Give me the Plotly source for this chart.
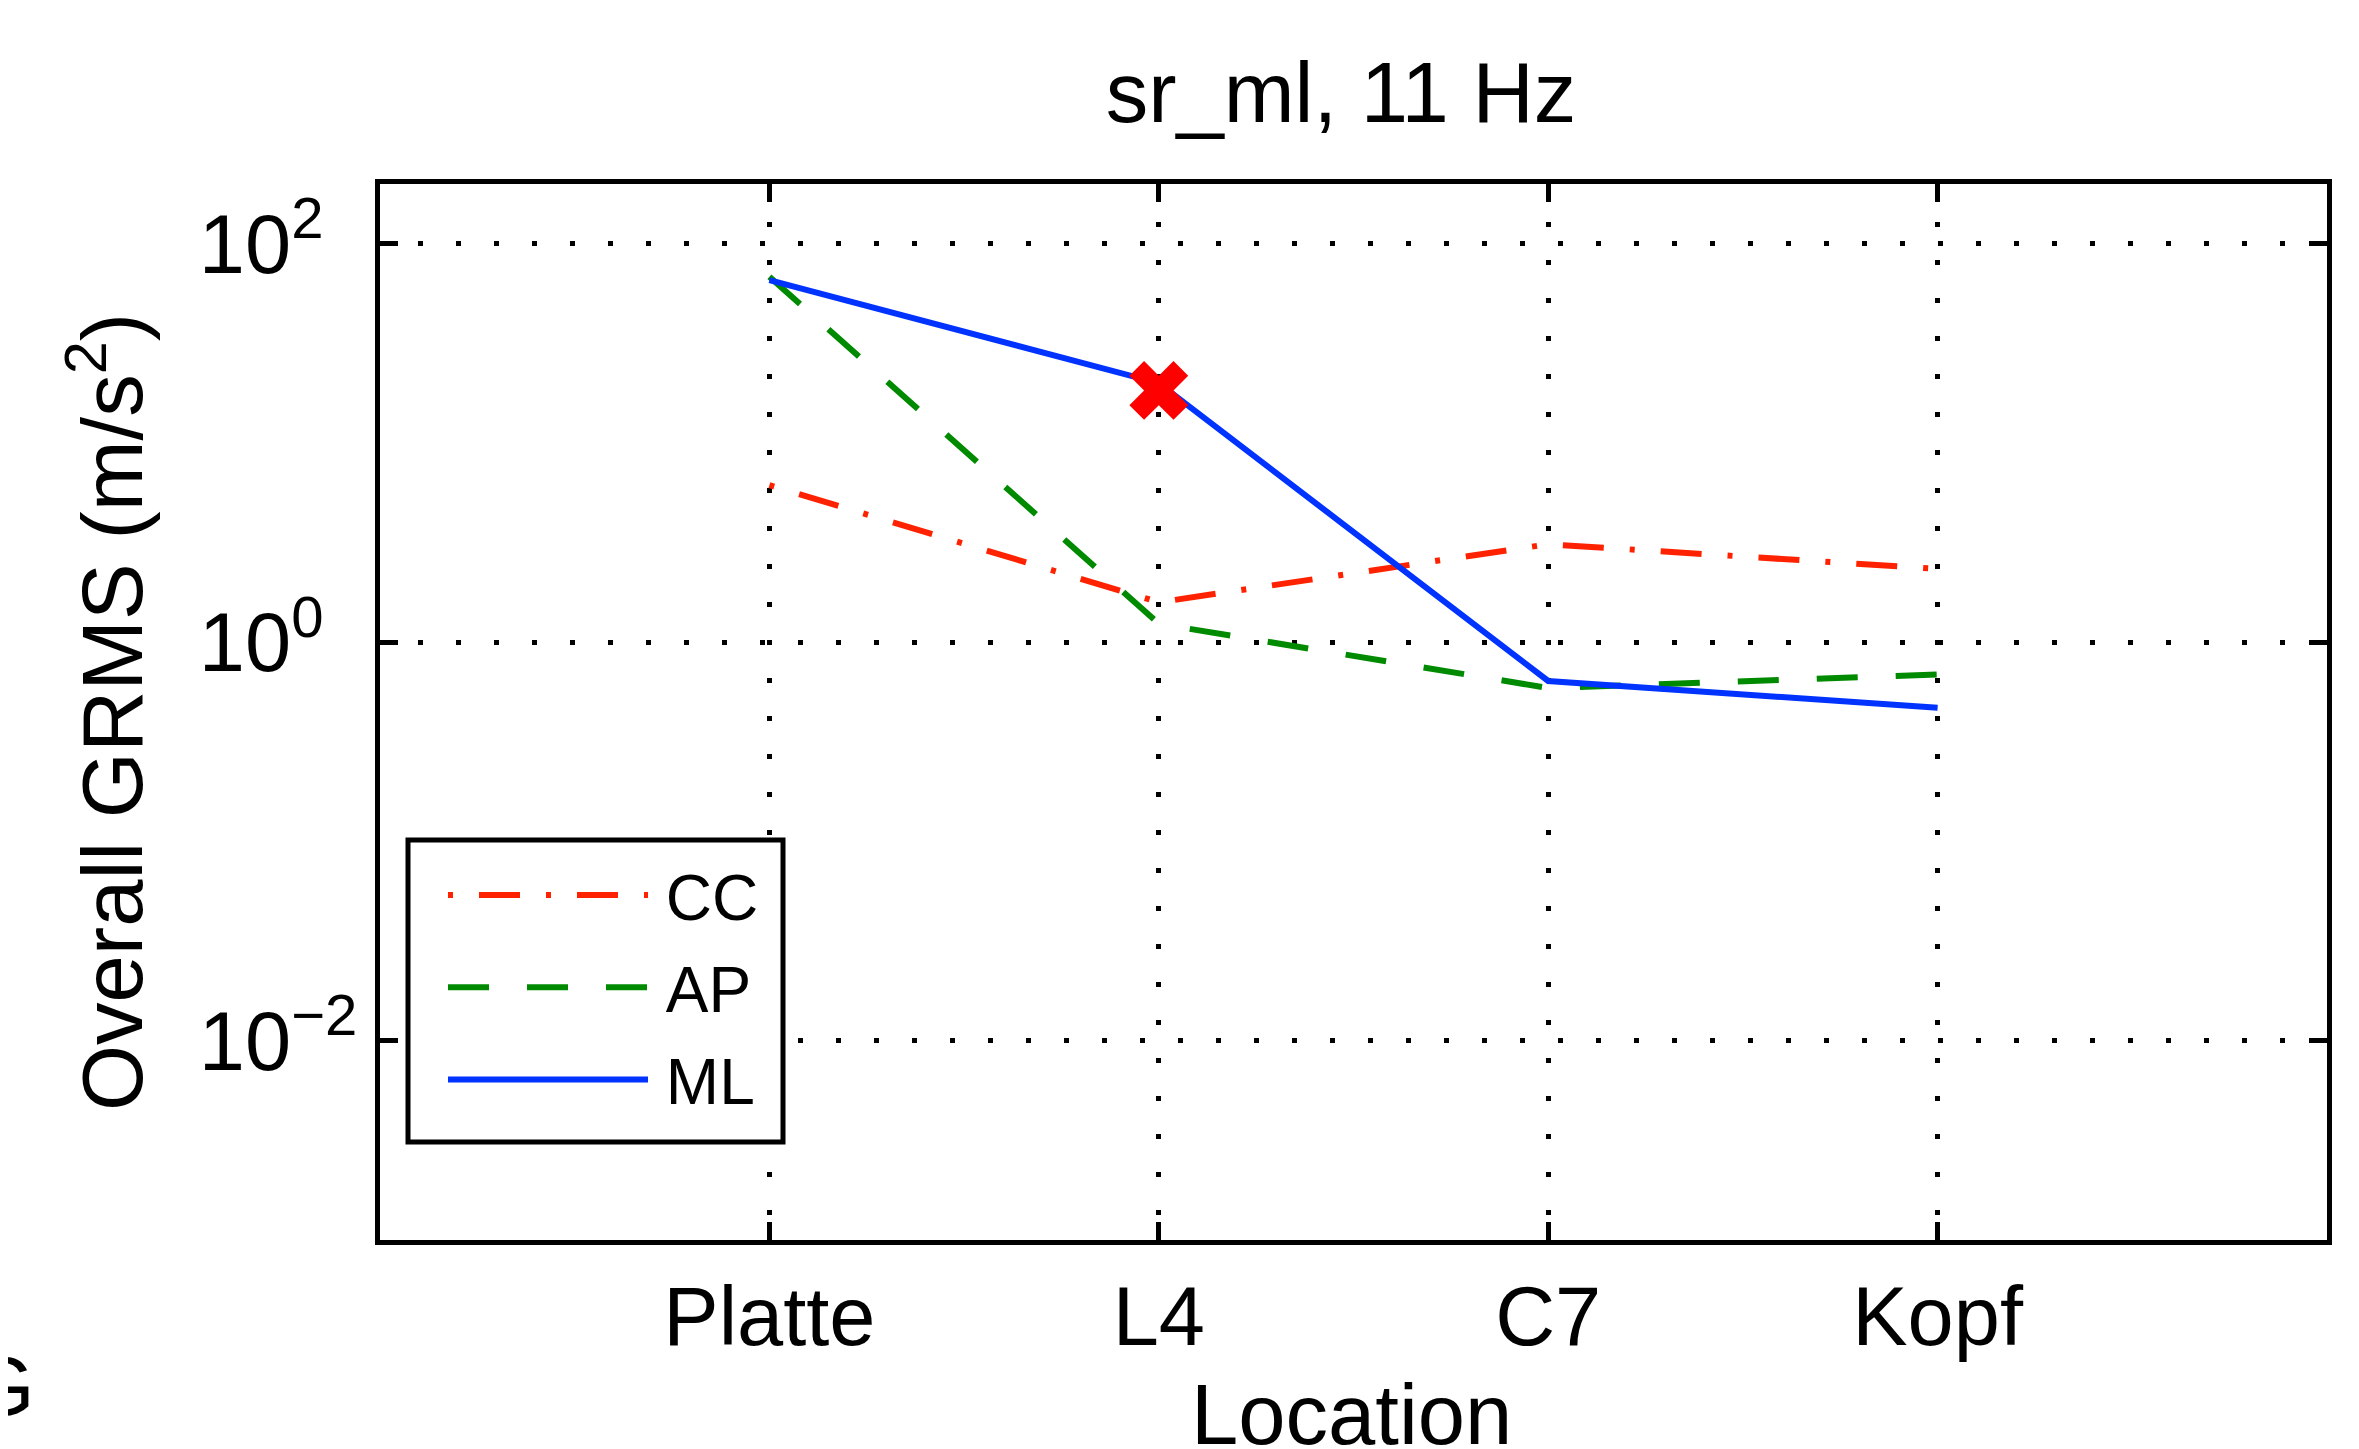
import plotly.graph_objects as go

locations = ["Platte", "L4", "C7", "Kopf"]
cc_vals = [6.15, 1.59, 3.11, 2.34]
ap_vals = [68.5, 1.24, 0.59, 0.69]
ml_vals = [65.9, 20.0, 0.64, 0.47]
marker_loc = ["L4"]
marker_val = [18.4]

ytick_vals = [0.01, 1, 100]
HID = "<span style='color:rgba(0,0,0,0)'>−</span>"
ytick_text = ["10<sup>−2</sup>", "10<sup>0" + HID + "</sup>", "10<sup>2" + HID + "</sup>"]

FONT = "Liberation Sans, Arial, Helvetica, sans-serif"
FS = 83
SP = "\u2009"
NB = "\u00a0"

# figure is rendered with an 8px page offset; layout below is in figure-local px
W, H = 2351, 1441
L, R, T, B = 372, 32, 176, 209
PW, PH = W - L - R, H - T - B

def px_x(v):
    return (v - L) / PW

def px_y(v):
    return (H - B - v) / PH

fig = go.Figure()
fig.add_trace(go.Scatter(x=locations, y=cc_vals, mode="lines", name=SP + "CC" + NB, legendgroup="cc",
                         line=dict(color="#ff2200", width=6, dash="5px,26px,41px,26px")))
fig.add_trace(go.Scatter(x=locations, y=ap_vals, mode="lines", name=SP + "AP" + NB, legendgroup="ap",
                         line=dict(color="#008a00", width=6, dash="41px,38px")))
fig.add_trace(go.Scatter(x=locations, y=ml_vals, mode="lines", name=SP + "ML" + NB, legendgroup="ml",
                         line=dict(color="#0033ff", width=6)))
fig.add_trace(go.Scatter(x=marker_loc, y=marker_val, mode="markers", showlegend=False,
                         marker=dict(symbol="x", size=52, color="#ff0000", line=dict(width=0))))

# legend frame
fig.add_shape(type="rect", xref="paper", yref="paper", layer="above",
              x0=px_x(400), x1=px_x(775), y0=px_y(1134), y1=px_y(832),
              fillcolor="white", line=dict(color="black", width=5))

fig.update_layout(
    width=W, height=H,
    margin=dict(l=L, r=R, t=T, b=B, autoexpand=False),
    paper_bgcolor="white", plot_bgcolor="white",
    font=dict(family=FONT, size=FS, color="black"),
    title=dict(text="sr_ml, 11 Hz", x=1333 / W, xref="container", y=1 - 84 / H, yref="container",
               xanchor="center", yanchor="middle", font=dict(size=85)),
    legend=dict(x=px_x(400), y=px_y(834), xanchor="left", yanchor="top",
                bgcolor="rgba(0,0,0,0)", bordercolor="rgba(0,0,0,0)", borderwidth=5,
                font=dict(size=64), itemwidth=200, traceorder="grouped", tracegroupgap=6,
                indentation=30),
    showlegend=True,
)
fig.update_xaxes(
    type="category", range=[-1, 4], automargin=True,
    showline=True, linecolor="black", linewidth=5, mirror="ticks",
    ticks="inside", ticklen=18, tickwidth=5, tickcolor="black",
    showgrid=True, gridcolor="black", gridwidth=5, griddash="5px,33px",
    zeroline=False, ticklabelstandoff=0, tickfont=dict(size=FS),
)
fig.update_yaxes(
    type="log", range=[-3, 2.30103], automargin=True,
    tickvals=ytick_vals, ticktext=ytick_text,
    showline=True, linecolor="black", linewidth=5, mirror="ticks",
    ticks="inside", ticklen=18, tickwidth=5, tickcolor="black",
    showgrid=True, gridcolor="black", gridwidth=5, griddash="5px,33px",
    zeroline=False, ticklabelstandoff=1, tickfont=dict(size=FS),
    title=dict(text="Overall GRMS (m/s<sup>2</sup>)", standoff=30, font=dict(size=85)),
)
# x-axis title (placed as an annotation so it can sit close to the bottom edge)
fig.add_annotation(text="Location", xref="paper", yref="paper", x=px_x(1343), y=px_y(1406),
                   xanchor="center", yanchor="middle", showarrow=False, font=dict(size=85))
fig.add_annotation(text="G", xref="paper", yref="paper", x=px_x(-6), y=px_y(1378),
                   xanchor="center", yanchor="middle", showarrow=False, font=dict(size=FS))

fig.write_html("out.html")
